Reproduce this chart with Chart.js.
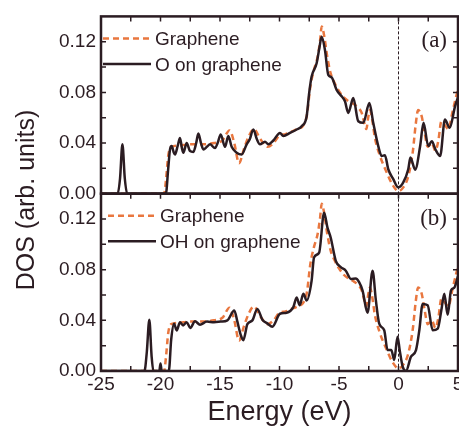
<!DOCTYPE html>
<html>
<head>
<meta charset="utf-8">
<script src="https://cdn.jsdelivr.net/npm/chart.js@4.4.0/dist/chart.umd.min.js"></script>
<style>
  html, body { margin: 0; padding: 0; background: #fff; }
  #wrap { width: 459px; height: 429px; }
</style>
</head>
<body>
<div id="wrap"><canvas id="dos" width="459" height="429"></canvas></div>
<script>
// Pristine graphene DOS (orange dashed, same curve in both panels)
const grapheneE = [-25, -19.7, -19.55, -19.35, -19.1, -18.5, -17.5, -16.5, -15.5, -14.8, -14.2, -13.8, -13.4, -13.0, -12.6, -12.15, -11.6, -11.0, -10.5, -10.0, -9.5, -9.0, -8.5, -8.0, -7.7, -7.4, -7.1, -6.8, -6.6, -6.45, -6.25, -6.0, -5.7, -5.4, -5.0, -4.6, -4.2, -3.8, -3.4, -3.1, -2.85, -2.7, -2.55, -2.4, -2.2, -2.0, -1.6, -1.0, -0.5, 0, 0.4, 0.8, 1.2, 1.45, 1.65, 1.95, 2.2, 2.45, 2.8, 3.1, 3.35, 3.6, 3.9, 4.2, 4.5, 4.85, 5.0];
const grapheneDOS = [0, 0, 0.01, 0.03, 0.037, 0.038, 0.039, 0.039, 0.040, 0.042, 0.050, 0.040, 0.024, 0.035, 0.045, 0.051, 0.043, 0.037, 0.040, 0.046, 0.047, 0.049, 0.051, 0.054, 0.062, 0.085, 0.098, 0.108, 0.120, 0.132, 0.125, 0.109, 0.095, 0.088, 0.081, 0.076, 0.073, 0.071, 0.068, 0.064, 0.055, 0.051, 0.060, 0.066, 0.058, 0.045, 0.031, 0.017, 0.007, 0.002, 0.005, 0.013, 0.033, 0.055, 0.066, 0.061, 0.048, 0.037, 0.040, 0.034, 0.042, 0.057, 0.054, 0.051, 0.063, 0.077, 0.082];

// O on graphene (panel a)
const oE = [-25, -23.6, -23.4, -23.2, -23.0, -22.8, -19.55, -19.35, -19.2, -19.06, -18.9, -18.78, -18.55, -18.36, -18.2, -18.08, -17.8, -17.52, -17.24, -17.0, -16.82, -16.6, -16.4, -16.1, -15.84, -15.42, -15.2, -14.94, -14.58, -14.3, -14.02, -13.6, -13.18, -12.76, -12.5, -12.2, -11.9, -11.64, -11.22, -10.94, -10.52, -9.96, -9.68, -9.12, -8.56, -8.14, -7.72, -7.5, -7.3, -6.88, -6.65, -6.46, -6.18, -5.9, -5.63, -5.2, -4.78, -4.5, -4.22, -3.8, -3.38, -2.96, -2.45, -2.12, -1.7, -1.42, -1.14, -0.86, -0.44, -0.02, 0.4, 0.82, 1.0, 1.4, 1.82, 2.1, 2.5, 2.8, 3.1, 3.5, 3.9, 4.3, 4.75, 5.0];
const oDOS = [0, 0, 0.012, 0.039, 0.012, 0, 0, 0.02, 0.035, 0.0376, 0.033, 0.031, 0.038, 0.044, 0.036, 0.0324, 0.040, 0.0337, 0.033, 0.040, 0.0475, 0.040, 0.035, 0.037, 0.039, 0.036, 0.040, 0.0467, 0.037, 0.0455, 0.037, 0.0324, 0.031, 0.039, 0.043, 0.0507, 0.043, 0.039, 0.041, 0.039, 0.042, 0.048, 0.0455, 0.048, 0.0507, 0.0533, 0.061, 0.080, 0.0925, 0.103, 0.115, 0.124, 0.1134, 0.0938, 0.092, 0.082, 0.0769, 0.073, 0.0638, 0.0755, 0.0572, 0.056, 0.0716, 0.0559, 0.0376, 0.0298, 0.0303, 0.0193, 0.0115, 0.005, 0.0089, 0.0193, 0.0285, 0.019, 0.0376, 0.056, 0.0376, 0.0415, 0.035, 0.0298, 0.0585, 0.052, 0.069, 0.076];

// OH on graphene (panel b)
const ohE = [-25, -21.35, -21.15, -20.94, -20.75, -20.6, -20.1, -20.0, -19.9, -19.3, -19.1, -18.86, -18.64, -18.36, -18.1, -17.8, -17.5, -17.1, -16.68, -16.1, -15.5, -14.94, -14.38, -13.8, -13.54, -13.26, -13.04, -12.7, -12.28, -11.86, -11.44, -11.0, -10.6, -9.96, -9.4, -8.84, -8.56, -8.3, -8.0, -7.72, -7.3, -7.1, -6.67, -6.25, -5.97, -5.7, -5.27, -4.85, -4.43, -4.0, -3.6, -3.3, -3.02, -2.6, -2.18, -1.9, -1.62, -1.2, -0.92, -0.6, -0.36, -0.08, 0.1, 0.35, 0.63, 1.05, 1.47, 1.75, 2.03, 2.45, 2.87, 3.3, 3.6, 3.85, 4.13, 4.41, 4.7, 5.0];
const ohDOS = [0, 0, 0.015, 0.0405, 0.012, 0, 0, 0.006, 0, 0, 0.025, 0.0374, 0.032, 0.0385, 0.036, 0.0385, 0.034, 0.0392, 0.0366, 0.039, 0.0385, 0.039, 0.040, 0.0478, 0.039, 0.0285, 0.0243, 0.037, 0.040, 0.049, 0.0405, 0.0374, 0.035, 0.0452, 0.046, 0.0504, 0.058, 0.052, 0.061, 0.0557, 0.0714, 0.0896, 0.0935, 0.125, 0.1132, 0.1054, 0.087, 0.082, 0.0792, 0.0727, 0.073, 0.070, 0.0635, 0.046, 0.0792, 0.0557, 0.0374, 0.0322, 0.0165, 0.0165, 0.0086, 0.027, 0.0165, 0.0034, 0, 0.0113, 0.0165, 0.0322, 0.053, 0.052, 0.0322, 0.0335, 0.048, 0.061, 0.0444, 0.0635, 0.066, 0.075];

const xTicks = [-25, -20, -15, -10, -5, 0, 5];
const yTicks = [0, 0.04, 0.08, 0.12];

const INK = '#2b1c22';
const ORANGE = '#e9773f';
const SANS = '"Liberation Sans", Arial, sans-serif';

function pts(es, vs) {
  return es.map((e, i) => ({ x: e, y: vs[i] }));
}

function curve(label, data, axis, color, dashed) {
  return {
    label: label,
    data: data,
    yAxisID: axis,
    borderColor: color,
    borderWidth: 2.5,
    borderDash: dashed ? [6, 4] : [],
    pointRadius: 0,
    cubicInterpolationMode: 'monotone',
    fill: false
  };
}

// frame, inward ticks, Fermi level, legends and panel labels
const panelDecor = {
  id: 'panelDecor',
  afterDatasetsDraw(chart) {
    const ctx = chart.ctx;
    const xs = chart.scales.x;
    const panels = [
      { id: 'yA', tag: '(a)', rows: [['Graphene', true], ['O on graphene', false]], lx: 2, tx: 54 },
      { id: 'yB', tag: '(b)', rows: [['Graphene', true], ['OH on graphene', false]], lx: 7, tx: 59 }
    ];
    panels.forEach((p, i) => {
      const ys = chart.scales[p.id];
      const left = xs.left, right = xs.right, top = ys.top, bottom = ys.bottom;
      ctx.save();
      ctx.strokeStyle = INK;

      // Fermi level
      const x0 = xs.getPixelForValue(0);
      ctx.lineWidth = 1;
      ctx.setLineDash([3, 2]);
      ctx.beginPath();
      ctx.moveTo(x0, top);
      ctx.lineTo(x0, bottom);
      ctx.stroke();
      ctx.setLineDash([]);

      // ticks (every 2.5 eV and 0.02)
      ctx.lineWidth = 1.5;
      ctx.beginPath();
      for (let e = -22.5; e < 5; e += 2.5) {
        const px = xs.getPixelForValue(e);
        ctx.moveTo(px, top);
        ctx.lineTo(px, top + 5);
        if (i === 1) {
          ctx.moveTo(px, bottom);
          ctx.lineTo(px, bottom - 5);
        }
      }
      for (let k = 1; k < 7; k++) {
        const py = ys.getPixelForValue(k * 0.02);
        ctx.moveTo(left, py);
        ctx.lineTo(left + 5, py);
        ctx.moveTo(right, py);
        ctx.lineTo(right - 5, py);
      }
      ctx.stroke();

      // frame
      ctx.lineWidth = 2.5;
      ctx.strokeRect(left, top, right - left, bottom - top);

      // legend
      ctx.font = '19px ' + SANS;
      ctx.fillStyle = INK;
      ctx.textBaseline = 'middle';
      p.rows.forEach((r, j) => {
        const ry = top + 22 + j * 25.5;
        ctx.strokeStyle = r[1] ? ORANGE : INK;
        ctx.lineWidth = 2.5;
        ctx.setLineDash(r[1] ? [6, 4] : []);
        ctx.beginPath();
        ctx.moveTo(left + p.lx, ry);
        ctx.lineTo(left + p.lx + 48, ry);
        ctx.stroke();
        ctx.setLineDash([]);
        ctx.fillText(r[0], left + p.tx, ry + 1.5);
      });

      // panel tag
      ctx.font = '23px "Liberation Serif", "Times New Roman", serif';
      ctx.textAlign = 'right';
      ctx.fillText(p.tag, right - 11, top + 25);
      ctx.restore();
    });

    // shared y title
    ctx.save();
    ctx.fillStyle = INK;
    ctx.font = '25px ' + SANS;
    ctx.textAlign = 'center';
    ctx.textBaseline = 'middle';
    ctx.translate(27, 200);
    ctx.rotate(-Math.PI / 2);
    ctx.fillText('DOS (arb. units)', 0, 0);
    ctx.restore();
  }
};

function yScale(weight) {
  return {
    type: 'linear',
    position: 'left',
    stack: 'dos',
    stackWeight: 1,
    weight: weight,
    min: 0,
    max: 0.14,
    grid: { display: false, drawTicks: false },
    border: { display: false },
    afterFit(scale) { scale.width = 101; },
    afterBuildTicks(scale) { scale.ticks = yTicks.map(v => ({ value: v })); },
    ticks: {
      padding: 5,
      color: INK,
      font: { size: 19, family: SANS },
      callback: v => v.toFixed(2)
    }
  };
}

new Chart(document.getElementById('dos'), {
  type: 'line',
  data: {
    datasets: [
      curve('O on graphene', pts(oE, oDOS), 'yA', INK, false),
      curve('Graphene', pts(grapheneE, grapheneDOS), 'yA', ORANGE, true),
      curve('OH on graphene', pts(ohE, ohDOS), 'yB', INK, false),
      curve('Graphene', pts(grapheneE, grapheneDOS), 'yB', ORANGE, true)
    ]
  },
  options: {
    responsive: false,
    animation: false,
    layout: { padding: { top: 13, right: 1, bottom: 0, left: 0 } },
    plugins: {
      legend: { display: false },
      tooltip: { enabled: false }
    },
    scales: {
      x: {
        type: 'linear',
        min: -25,
        max: 5,
        grid: { display: false, drawTicks: false },
        border: { display: false },
        afterBuildTicks(scale) { scale.ticks = xTicks.map(v => ({ value: v })); },
        afterFit(scale) {
          scale.height = 58;
          scale.paddingLeft = 0;
          scale.paddingRight = 0;
        },
        ticks: {
          padding: 2,
          maxRotation: 0,
          color: INK,
          font: { size: 19, family: SANS }
        },
        title: {
          display: true,
          text: 'Energy (eV)',
          color: INK,
          font: { size: 27, family: SANS },
          padding: { top: 0, bottom: 0 }
        }
      },
      yB: yScale(1),
      yA: yScale(2)
    }
  },
  plugins: [panelDecor]
});
</script>
</body>
</html>
